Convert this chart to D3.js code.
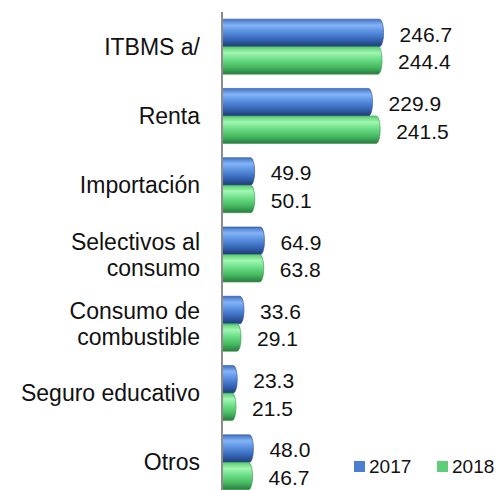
<!DOCTYPE html>
<html>
<head>
<meta charset="utf-8">
<script src="https://cdn.jsdelivr.net/npm/d3@7"></script>
<style>
  body { margin: 0; background: #fff; }
  svg { display: block; font-family: "Liberation Sans", Arial, sans-serif; }
</style>
</head>
<body>
<svg width="504" height="490"></svg>
<script>
// categories as drawn, top to bottom (line breaks with |)
var categories = ["ITBMS a/", "Renta", "Importación", "Selectivos al|consumo",
                  "Consumo de|combustible", "Seguro educativo", "Otros"];
var seriesNames = ["2017", "2018"];
var values2017 = [246.7, 229.9, 49.9, 64.9, 33.6, 23.3, 48.0];
var values2018 = [244.4, 241.5, 50.1, 63.8, 29.1, 21.5, 46.7];

var svg = d3.select("svg");
var width = 504, height = 490;

var data = categories.map(function (c, i) {
    return { cat: c, vals: [
        { s: "2017", v: values2017[i] },
        { s: "2018", v: values2018[i] }
    ] };
});

var x = d3.scaleLinear().domain([0, 300]).range([222, 418.5]);
var y = d3.scaleBand().domain(categories).range([12, 497])
          .paddingInner(0.206).paddingOuter(0.103);
var ySub = d3.scaleBand().domain(seriesNames).range([0, y.bandwidth()]);

// cylinder-like gradients
var defs = svg.append("defs");
var grads = {
    "2017": [["0", "#3f72c6"], ["0.22", "#84b4f6"], ["0.45", "#5b91e2"], ["0.75", "#3463b4"], ["1", "#1e3d75"]],
    "2018": [["0", "#55cc70"], ["0.22", "#a2f6b2"], ["0.45", "#6ee08a"], ["0.75", "#45b85f"], ["1", "#2a7a40"]]
};
var edge = { "2017": "#2a4f90", "2018": "#3a9050" };
var legendColor = { "2017": "#4a7fd4", "2018": "#5ecf78" };
Object.keys(grads).forEach(function (k) {
    var g = defs.append("linearGradient").attr("id", "g" + k)
        .attr("x1", 0).attr("y1", 0).attr("x2", 0).attr("y2", 1);
    grads[k].forEach(function (s) {
        g.append("stop").attr("offset", s[0]).attr("stop-color", s[1]);
    });
});

function barPath(x0, x1, y0, h) {
    var r = 4;
    return "M" + x0 + "," + y0 + "H" + (x1 - r) +
           "A" + r + "," + (h / 2) + " 0 0 1 " + (x1 - r) + "," + (y0 + h) +
           "H" + x0 + "Z";
}

var groups = svg.selectAll("g.cat").data(data).enter().append("g")
    .attr("class", "cat")
    .attr("transform", function (d) { return "translate(0," + y(d.cat) + ")"; });

groups.selectAll("path").data(function (d) { return d.vals; }).enter().append("path")
    .attr("d", function (d) { return barPath(x(0), x(d.v), ySub(d.s), ySub.bandwidth()); })
    .attr("fill", function (d) { return "url(#g" + d.s + ")"; })
    .attr("stroke", function (d) { return edge[d.s]; })
    .attr("stroke-width", 0.6);

groups.selectAll("text.val").data(function (d) { return d.vals; }).enter().append("text")
    .attr("class", "val")
    .attr("x", function (d) { return x(d.v) + 16; })
    .attr("y", function (d) { return ySub(d.s) + ySub.bandwidth() / 2 + 1.5; })
    .attr("dy", "0.35em")
    .attr("font-size", 21)
    .attr("fill", "#111")
    .text(function (d) { return d.v.toFixed(1); });

// category labels
groups.each(function (d) {
    var lines = d.cat.split("|");
    var t = d3.select(this).append("text")
        .attr("text-anchor", "end")
        .attr("font-size", 23)
        .attr("fill", "#111");
    var lh = 26;
    lines.forEach(function (l, i) {
        t.append("tspan")
            .attr("x", 200)
            .attr("y", y.bandwidth() / 2 + (i - (lines.length - 1) / 2) * lh)
            .attr("dy", "0.35em")
            .text(l);
    });
});

// axis line
svg.append("line")
    .attr("x1", 222).attr("x2", 222)
    .attr("y1", 12).attr("y2", height)
    .attr("stroke", "#8c8c8c").attr("stroke-width", 2);

// legend
var legend = svg.append("g").attr("transform", "translate(354,461)");
var lx = [0, 83];
seriesNames.forEach(function (s, i) {
    legend.append("rect").attr("x", lx[i]).attr("y", 0)
        .attr("width", 11).attr("height", 11).attr("fill", legendColor[s]);
    legend.append("text").attr("x", lx[i] + 15).attr("y", 5.5).attr("dy", "0.35em")
        .attr("font-size", 19).attr("fill", "#111").text(s);
});
</script>
</body>
</html>
